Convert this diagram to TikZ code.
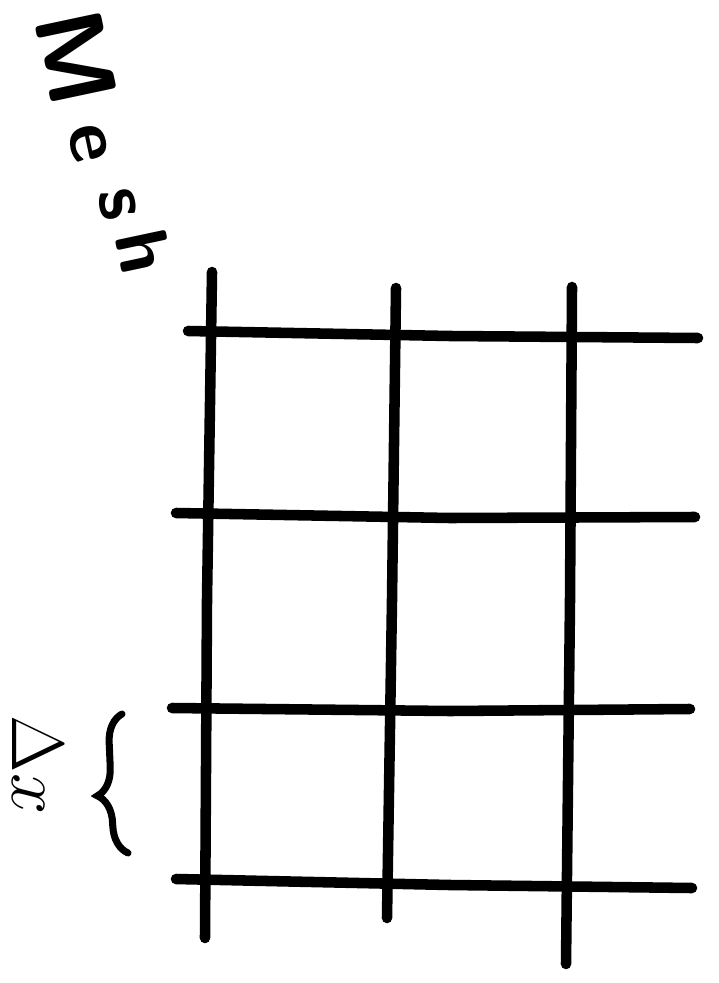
\documentclass[tikz,border=0pt]{standalone}
\usepackage{fontspec}
\usetikzlibrary{decorations.pathreplacing}

\begin{document}
\begin{tikzpicture}[x=0.02cm, y=-0.02cm,
    gridline/.style={line width=6pt, line cap=round, line join=round},
    brace/.style={line width=4pt, line cap=round, decorate,
      decoration={brace, amplitude=16pt, aspect=0.42}},
    letter/.style={rotate=-78, font=\Huge\sffamily\bfseries, scale=1.7, inner sep=0pt}]
    \useasboundingbox (0,0) rectangle (718,983);
    % horizontal lines
    \draw[gridline] (188,331) -- (450,336) -- (698,338);
    \draw[gridline] (176,513) -- (450,518) -- (695,517);
    \draw[gridline] (172,708) -- (450,711) -- (690,709);
    \draw[gridline] (176,879) -- (450,885) -- (692,888);
    % vertical lines
    \draw[gridline] (212,272) -- (207,600) -- (205,938);
    \draw[gridline] (396,288) -- (392,600) -- (387,918);
    \draw[gridline] (572,287) -- (570,600) -- (566,964);
    % title, letter by letter
    \node[letter, scale=1.3] (m) at (76,58) {M};
    \node[letter] (e) at (88,143) {e};
    \node[letter] (s) at (118,204) {s};
    \node[letter] (h) at (144,252) {h};
    % spacing mark
    \coordinate (bt) at (122,714);
    \coordinate (bb) at (128,853);
    \draw[brace] (bb) -- (bt);
    \node[rotate=-90, font=\Huge, scale=1.7] (dx) at (38,765) {$\Delta x$};
\end{tikzpicture}
\end{document}
